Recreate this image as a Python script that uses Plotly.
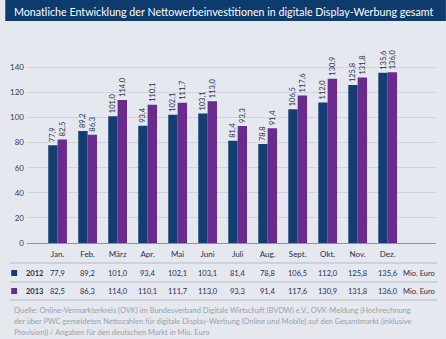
import plotly.graph_objects as go

months = ["Jan.", "Feb.", "März", "Apr.", "Mai", "Juni", "Juli", "Aug.", "Sept.", "Okt.", "Nov.", "Dez."]
v2012 = [77.9, 89.2, 101.0, 93.4, 102.1, 103.1, 81.4, 78.8, 106.5, 112.0, 125.8, 135.6]
v2013 = [82.5, 86.3, 114.0, 110.1, 111.7, 113.0, 93.3, 91.4, 117.6, 130.9, 131.8, 136.0]
years = ["2012", "2013"]
yticks = [0, 20, 40, 60, 80, 100, 120, 140]
title = "Monatliche Entwicklung der Nettowerbeinvestitionen in digitale Display-Werbung gesamt"
unit = "Mio. Euro"
source_lines = [
    "Quelle: Online-Vermarkterkreis (OVK) im Bundesverband Digitale Wirtschaft (BVDW) e.V., OVK-Meldung (Hochrechnung",
    "der über PWC gemeldeten Nettozahlen für digitale Display-Werbung (Online und Mobile) auf den Gesamtmarkt (inklusive",
    "Provision)) / Angaben für den deutschen Markt in Mio. Euro",
]

W, H = 446, 339
ML, MR, MT, MB = 22, 10, 61, 96
PW, PH = W - ML - MR, H - MT - MB

def px(x):
    return (x - ML) / PW

def py(y):
    return (H - MB - y) / PH

def de(v):
    return f"{v:.1f}".replace(".", ",")

C12 = "#143d72"
C13 = "#6a2b8f"
BG = "#e5e8ef"
FONT = "Lato"
TXT = "#25304d"

idx = list(range(len(months)))

fig = go.Figure()
for vals, col, nm in [(v2012, C12, years[0]), (v2013, C13, years[1])]:
    fig.add_bar(x=idx, y=vals, name=nm, marker_color=col, marker_line_width=0,
                text=[de(v) for v in vals], textposition="outside", textangle=-90,
                constraintext="none",
                textfont=dict(size=7.5, color=TXT, family=FONT), cliponaxis=False)

shapes = []
annotations = []
# title bar
shapes.append(dict(type="rect", xref="paper", yref="paper", x0=px(0), x1=px(W), y0=py(21), y1=py(0),
                   fillcolor="#0e3b6e", line_width=0, layer="below"))
annotations.append(dict(xref="paper", yref="paper", x=px(7), y=py(11), text=title, showarrow=False,
                        xanchor="left", yanchor="middle", font=dict(size=10.7, color="white", family=FONT)))
# table lines
for yl in [263, 282, 300]:
    shapes.append(dict(type="line", xref="paper", yref="paper", x0=px(5), x1=px(437), y0=py(yl), y1=py(yl),
                       line=dict(color="#b3b9c6", width=1)))
rows = [(v2012, C12, 273), (v2013, C13, 291)]
for (vals, col, yr), yname in zip(rows, years):
    shapes.append(dict(type="rect", xref="paper", yref="paper", x0=px(6), x1=px(12), y0=py(yr + 3), y1=py(yr - 3),
                       fillcolor=col, line_width=0))
    annotations.append(dict(xref="paper", yref="paper", x=px(19), y=py(yr), text=f"<b>{yname}</b>", showarrow=False,
                            xanchor="left", yanchor="middle", font=dict(size=7.5, color=TXT, family=FONT)))
    for i, v in zip(idx, vals):
        annotations.append(dict(xref="x", yref="paper", x=i, y=py(yr), text=de(v), showarrow=False,
                                xanchor="center", yanchor="middle", font=dict(size=7.5, color=TXT, family=FONT)))
    annotations.append(dict(xref="paper", yref="paper", x=px(437), y=py(yr), text=unit, showarrow=False,
                            xanchor="right", yanchor="middle", font=dict(size=7.5, color=TXT, family=FONT)))
for k, line in enumerate(source_lines):
    annotations.append(dict(xref="paper", yref="paper", x=px(7), y=py(310 + k * 11), text=line, showarrow=False,
                            xanchor="left", yanchor="middle", font=dict(size=7.5, color="#9ba1ad", family=FONT)))

fig.update_layout(
    width=W, height=H, margin=dict(l=ML, r=MR, t=MT, b=MB),
    paper_bgcolor=BG, plot_bgcolor=BG, showlegend=False,
    barmode="group", bargap=0.375, bargroupgap=0,
    shapes=shapes, annotations=annotations,
    font=dict(family=FONT, color=TXT),
)
fig.update_xaxes(range=[-1.02, 12.61], tickmode="array", tickvals=idx, ticktext=months,
                 tickfont=dict(size=8, color=TXT, family=FONT), showgrid=False, zeroline=False,
                 showline=True, linecolor="#8e949f", linewidth=1, ticks="", ticklabelstandoff=3)
fig.update_yaxes(range=[0, 145], tickmode="array", tickvals=yticks, showgrid=True, gridcolor="#d0d4dd",
                 gridwidth=1, zeroline=False, tickfont=dict(size=8, color="#3a4050", family=FONT),
                 ticks="", ticklabelstandoff=2)
fig.write_html("out.html")
